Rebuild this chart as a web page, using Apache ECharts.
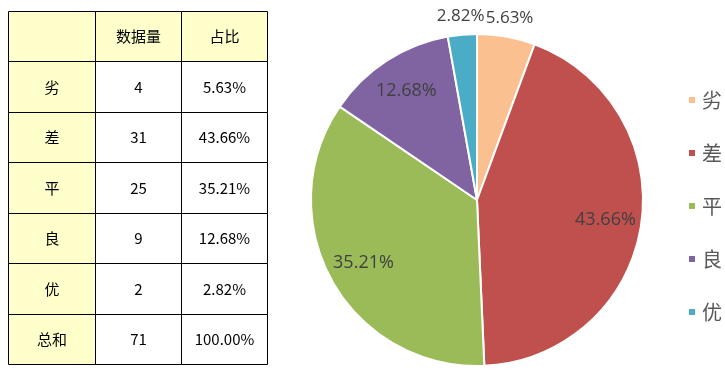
<!DOCTYPE html>
<html><head><meta charset="utf-8">
<script src="https://cdn.jsdelivr.net/npm/echarts@6/dist/echarts.min.js"></script>
<style>html,body{margin:0;padding:0;background:#fff}#c{width:725px;height:375px}</style>
</head><body><div id="c"></div>
<script>
var categories = ['劣', '差', '平', '良', '优'];
var counts = [4, 31, 25, 9, 2];
var percentLabels = ['5.63%', '43.66%', '35.21%', '12.68%', '2.82%'];
var headerLabels = ['', '数据量', '占比'];
var totalLabel = '总和';
var totalCount = 71;
var totalPercent = '100.00%';
var colors = ['#FAC090', '#C0504D', '#9BBB59', '#8064A2', '#4BACC6'];
var insideShown = ['差', '平', '良'];
var outsideShown = ['劣', '优'];

var FONT = '"Noto Sans CJK SC","Noto Sans",sans-serif';
// table layout
var tx = 8.5, ty = 10.5, colW = [87, 86, 86], rowH = 50.57;
var rows = [headerLabels];
categories.forEach(function (c, i) { rows.push([c, String(counts[i]), percentLabels[i]]); });
rows.push([totalLabel, String(totalCount), totalPercent]);
var graphics = [];
rows.forEach(function (r, ri) {
  var x = tx;
  r.forEach(function (txt, ci) {
    var y0 = Math.round(ty + ri * rowH);
    var y1 = Math.round(ty + (ri + 1) * rowH);
    var fill = (ri === 0 || ci === 0) ? '#FFFFCC' : '#FFFFFF';
    graphics.push({
      type: 'rect', shape: { x: x, y: y0 + 0.5, width: colW[ci], height: y1 - y0 },
      style: { fill: fill, stroke: '#000', lineWidth: 1 }, z: 1
    });
    if (txt) graphics.push({
      type: 'text', x: x + colW[ci] / 2, y: (y0 + y1) / 2 + 0.5, z: 2,
      style: { text: txt, fill: '#000', font: '15px ' + FONT, align: 'center', verticalAlign: 'middle' }
    });
    x += colW[ci];
  });
});

var pieData = categories.map(function (c, i) { return { name: c, value: counts[i] }; });
var R = 166, C = [477, 200];
var labelFont = { color: '#404040', fontFamily: '"Open Sans",sans-serif' };
var chart = echarts.init(document.getElementById('c'));
chart.setOption({
  animation: false,
  color: colors,
  graphic: graphics,
  legend: {
    orient: 'vertical', left: 682, top: 85, itemWidth: 8, itemHeight: 8, itemGap: 33,
    icon: 'rect', data: categories,
    textStyle: { fontSize: 20, color: '#595959', fontFamily: FONT, padding: [0, 0, 0, 1] }
  },
  series: [
    {
      type: 'pie', center: C, radius: [0, R], startAngle: 90, data: pieData,
      label: { show: false }, labelLine: { show: false },
      itemStyle: { borderColor: '#fff', borderWidth: 2 }, silent: true
    },
    {
      type: 'pie', center: C, radius: [88, R], startAngle: 90, silent: true,
      avoidLabelOverlap: false, labelLayout: { hideOverlap: false },
      data: pieData.map(function (d) {
        return { name: d.name, value: d.value, label: { show: insideShown.indexOf(d.name) >= 0 } };
      }),
      itemStyle: { color: 'rgba(0,0,0,0)' }, labelLine: { show: false },
      label: Object.assign({ position: 'inside', formatter: '{d}%', fontSize: 18 }, labelFont)
    },
    {
      type: 'pie', center: C, radius: [174, 190], startAngle: 90, silent: true,
      avoidLabelOverlap: false, labelLayout: { hideOverlap: false },
      data: pieData.map(function (d) {
        return { name: d.name, value: d.value, label: { show: outsideShown.indexOf(d.name) >= 0 } };
      }),
      itemStyle: { color: 'rgba(0,0,0,0)' }, labelLine: { show: false },
      label: Object.assign({ position: 'inside', formatter: '{d}%', fontSize: 17 }, labelFont)
    }
  ]
});
</script></body></html>
